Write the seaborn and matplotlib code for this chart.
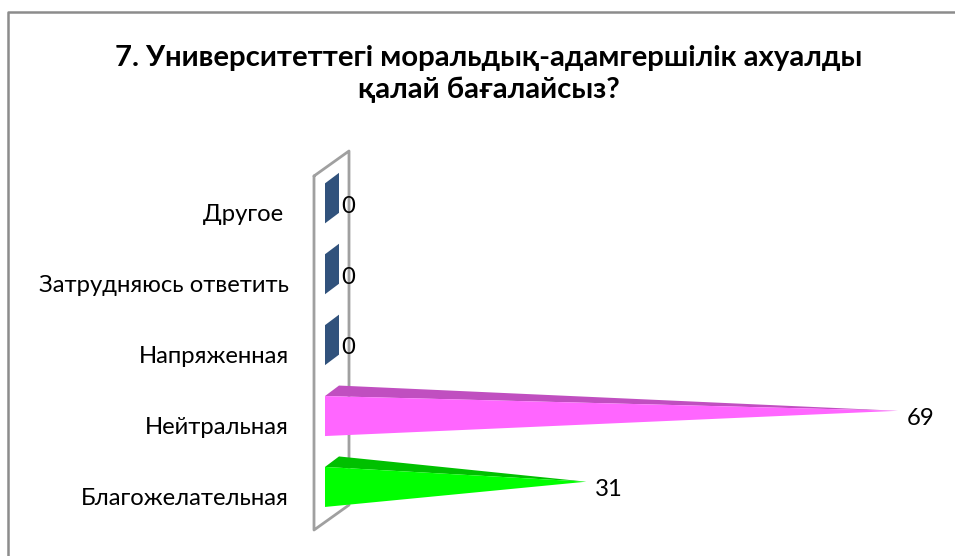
import numpy as np
import pandas as pd
import seaborn as sns
import matplotlib.pyplot as plt
from matplotlib.patches import Polygon
from matplotlib.lines import Line2D
from matplotlib.transforms import ScaledTranslation

categories = ['Другое ', 'Затрудняюсь ответить', 'Напряженная', 'Нейтральная', 'Благожелательная']
values = [0, 0, 0, 69, 31]
front_colors = ['#31527C', '#31527C', '#31527C', '#FF66FF', '#00FF00']
top_colors = ['#31527C', '#31527C', '#31527C', '#C04FC0', '#00C000']
title = '7. Университеттегі моральдық-адамгершілік ахуалды\nқалай бағалайсыз?'

W, H = 955, 556

sns.set_theme(style='white')
plt.rcParams['font.family'] = ['Lato', 'Open Sans', 'DejaVu Sans']

fig = plt.figure(figsize=(W / 100, H / 100), dpi=100, facecolor='white')
# x=0 sits in the middle of the bar base, 8.2 px per unit, 70.9 px per category
ax = fig.add_axes([332 / W, 1 - 517.15 / H, 8.2 * 69 / W, 354.5 / H])
ax.patch.set_visible(False)

df = pd.DataFrame({'cat': categories, 'val': values})
sns.barplot(data=df, y='cat', x='val', orient='h', width=40 / 70.9, color='white', ax=ax)
ax.set_xlim(0, 69)
ax.set_ylim(4.5, -0.5)
ax.set_xlabel('')
ax.set_ylabel('')
ax.set_xticks([])
ax.tick_params(axis='y', length=0, pad=31, labelsize=17.2, labelcolor='black')
sns.despine(ax=ax, left=True, bottom=True)

# category labels sit lower than the bars
shift = ScaledTranslation(0, -14.5 / 100, fig.dpi_scale_trans)
for lab in ax.get_yticklabels():
    lab.set_transform(lab.get_transform() + shift)

# depth of the 3d look
dx = 7 / 8.2
dy = 5.25 / 70.9


def px(x, y):
    return x / W, 1 - y / H


# back wall of the chart, a frame in pixels
wall = [(314, 176), (349, 151), (349, 505), (314, 530), (314, 176)]
fig.add_artist(Line2D(*zip(*[px(*p) for p in wall]), color='#A0A0A0', lw=2, zorder=0))

# outer frame, only left and top show
fig.add_artist(Line2D(*zip(*[px(*p) for p in [(8, H), (8, 12), (W, 12)]]), color='#8C8C8C', lw=1.8))

# turn the flat seaborn bars into pyramids
for i, bar in enumerate(list(ax.patches)):
    h = bar.get_height()
    y0 = bar.get_y()
    v = values[i]
    bar.set_visible(False)
    cy = y0 + h / 2
    if v == 0:
        pts = [(-dx, cy + h / 2 + dy), (-dx, cy - h / 2 + dy), (dx, cy - h / 2 - dy), (dx, cy + h / 2 - dy)]
        ax.add_patch(Polygon(pts, closed=True, fc=front_colors[i], ec='none', clip_on=False, zorder=3))
    else:
        top = [(-dx, cy - h / 2 + dy), (dx, cy - h / 2 - dy), (v, cy)]
        front = [(-dx, cy + h / 2 + dy), (-dx, cy - h / 2 + dy), (v, cy)]
        ax.add_patch(Polygon(top, closed=True, fc=top_colors[i], ec='none', clip_on=False, zorder=3))
        ax.add_patch(Polygon(front, closed=True, fc=front_colors[i], ec='none', clip_on=False, zorder=4))
    ax.annotate(str(v), (v, cy), xytext=(9 * 0.72, -8 * 0.72), textcoords='offset points',
                ha='left', va='center', fontsize=17.2, color='black', zorder=5, annotation_clip=False)

fig.text(489 / W, 1 - 74 / H, title, ha='center', va='center', fontsize=21.2, fontweight='bold',
         color='black', linespacing=1.3)

fig.savefig('out.png', dpi=100)
